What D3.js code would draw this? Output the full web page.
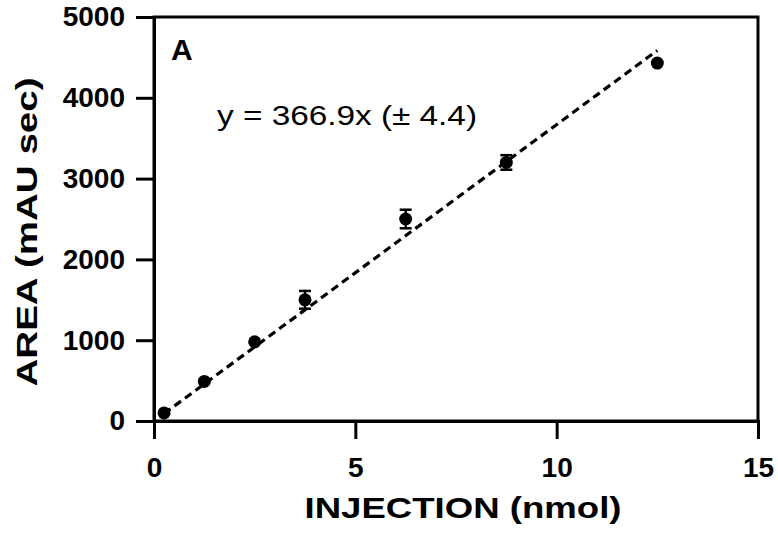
<!DOCTYPE html>
<html><head><meta charset="utf-8">
<script src="https://cdn.jsdelivr.net/npm/d3@7"></script>
<style>body{margin:0;background:#fff}svg{display:block}text{font-family:"Liberation Sans",Arial,sans-serif}</style>
</head><body>
<svg id="c" width="778" height="535"></svg>
<script>
const injection = [0.25, 1.25, 2.5, 3.75, 6.25, 8.75, 12.5];
const area = [100, 490, 980, 1500, 2500, 3200, 4430];
const areaErr = [0, 0, 0, 110, 115, 90, 0];
const slope = 366.9;
const fitRange = [0.25, 12.5];
const xTicks = [0, 5, 10, 15];
const yTicks = [0, 1000, 2000, 3000, 4000, 5000];

const svg = d3.select("#c");
const L = 154, R = 758, T = 17, B = 421;
const x = d3.scaleLinear().domain([0, 15]).range([L, R]);
const y = d3.scaleLinear().domain([0, 5000]).range([B, T]);

// frame
svg.append("rect").attr("x", L).attr("y", T).attr("width", R - L).attr("height", B - T)
  .attr("fill", "none").attr("stroke", "#000").attr("stroke-width", 3);

const xAxis = svg.append("g").attr("transform", `translate(0,${B})`)
  .call(d3.axisBottom(x).tickValues(xTicks).tickSize(18).tickPadding(18).tickFormat(d3.format("d")));
const yAxis = svg.append("g").attr("transform", `translate(${L},0)`)
  .call(d3.axisLeft(y).tickValues(yTicks).tickSize(18).tickPadding(11).tickFormat(d3.format("d")));
[xAxis, yAxis].forEach(g => {
  g.attr("font-size", null).attr("font-family", null);
  g.select(".domain").attr("stroke-width", 3);
  g.selectAll(".tick line").attr("stroke-width", 3);
  g.selectAll("text").attr("font-size", 28).attr("font-weight", "bold").attr("fill", "#000")
    .style("font-family", "'Liberation Sans', Arial, sans-serif");
});

// fit line
svg.append("path")
  .datum(fitRange)
  .attr("d", d3.line().x(d => x(d)).y(d => y(slope * d)))
  .attr("stroke", "#000").attr("stroke-width", 3.2).attr("fill", "none")
  .attr("stroke-dasharray", "8,5");

// error bars
const pts = injection.map((v, i) => ({x: v, y: area[i], e: areaErr[i]}));
const eb = svg.append("g").selectAll("g").data(pts.filter(d => d.e > 0)).join("g");
eb.append("line").attr("x1", d => x(d.x)).attr("x2", d => x(d.x))
  .attr("y1", d => y(d.y - d.e)).attr("y2", d => y(d.y + d.e)).attr("stroke", "#000").attr("stroke-width", 2.5);
eb.append("line").attr("x1", d => x(d.x) - 6).attr("x2", d => x(d.x) + 6)
  .attr("y1", d => y(d.y + d.e)).attr("y2", d => y(d.y + d.e)).attr("stroke", "#000").attr("stroke-width", 2.5);
eb.append("line").attr("x1", d => x(d.x) - 6).attr("x2", d => x(d.x) + 6)
  .attr("y1", d => y(d.y - d.e)).attr("y2", d => y(d.y - d.e)).attr("stroke", "#000").attr("stroke-width", 2.5);

svg.append("g").selectAll("circle").data(pts).join("circle")
  .attr("cx", d => x(d.x)).attr("cy", d => y(d.y)).attr("r", 6.5).attr("fill", "#000");

// labels
svg.append("text").attr("x", 171).attr("y", 60).attr("font-size", 30).attr("font-weight", "bold").text("A");
svg.append("text").attr("x", 217).attr("y", 125).attr("font-size", 28)
  .attr("textLength", 260).attr("lengthAdjust", "spacingAndGlyphs").text("y = 366.9x (\u00B1 4.4)");
svg.append("text").attr("x", 463).attr("y", 518).attr("text-anchor", "middle")
  .attr("font-size", 30).attr("font-weight", "bold")
  .attr("textLength", 317).attr("lengthAdjust", "spacingAndGlyphs").text("INJECTION (nmol)");
svg.append("text").attr("transform", "translate(37,232) rotate(-90)").attr("text-anchor", "middle")
  .attr("font-size", 30).attr("font-weight", "bold")
  .attr("textLength", 309).attr("lengthAdjust", "spacingAndGlyphs").text("AREA (mAU sec)");
</script>
</body></html>
